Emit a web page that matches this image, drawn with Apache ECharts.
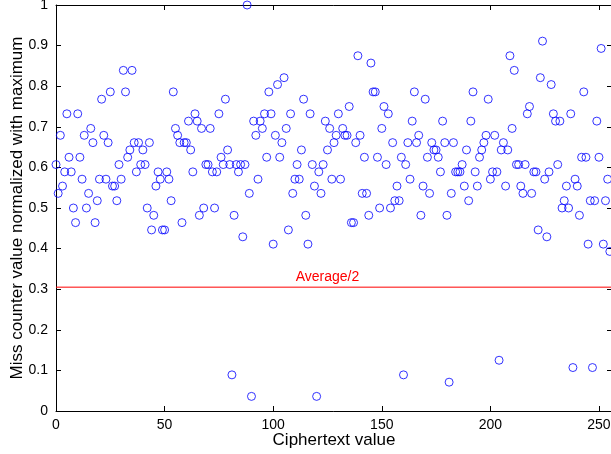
<!DOCTYPE html>
<html>
<head>
<meta charset="utf-8">
<script src="https://cdn.jsdelivr.net/npm/echarts@6/dist/echarts.min.js"></script>
<style>html,body{margin:0;padding:0;background:#fff}#c{width:611px;height:454px}</style>
</head>
<body>
<div id="c"></div>
<script>
// Normalized miss counter values, one per ciphertext value 0..255
const missValues = [
 0.607,0.536,0.679,0.554,0.589,0.732,0.625,0.589,0.5,0.464,
 0.732,0.625,0.571,0.679,0.5,0.536,0.696,0.661,0.464,0.518,
 0.571,0.768,0.679,0.571,0.661,0.786,0.554,0.554,0.518,0.607,
 0.571,0.839,0.786,0.625,0.643,0.839,0.661,0.589,0.661,0.607,
 0.643,0.607,0.5,0.661,0.446,0.482,0.554,0.589,0.571,0.446,
 0.446,0.589,0.571,0.518,0.786,0.696,0.679,0.661,0.464,0.661,
 0.661,0.714,0.643,0.589,0.732,0.714,0.482,0.696,0.5,0.607,
 0.607,0.696,0.589,0.5,0.589,0.732,0.625,0.607,0.768,0.643,
 0.607,0.089,0.482,0.607,0.589,0.607,0.429,0.607,1.0,0.536,
 0.036,0.714,0.679,0.571,0.714,0.696,0.732,0.625,0.786,0.732,
 0.411,0.679,0.804,0.625,0.661,0.821,0.696,0.446,0.732,0.536,
 0.571,0.607,0.571,0.643,0.768,0.482,0.411,0.732,0.607,0.554,
 0.036,0.589,0.536,0.607,0.714,0.643,0.696,0.571,0.661,0.679,
 0.732,0.571,0.696,0.679,0.679,0.75,0.464,0.464,0.661,0.875,
 0.679,0.536,0.625,0.536,0.482,0.857,0.786,0.786,0.625,0.5,
 0.696,0.75,0.607,0.732,0.5,0.661,0.518,0.554,0.518,0.625,
 0.089,0.607,0.661,0.571,0.714,0.786,0.661,0.679,0.482,0.554,
 0.768,0.625,0.536,0.661,0.643,0.643,0.625,0.589,0.714,0.661,
 0.482,0.071,0.536,0.661,0.589,0.589,0.589,0.607,0.554,0.643,
 0.518,0.714,0.786,0.589,0.554,0.625,0.643,0.661,0.679,0.768,
 0.571,0.589,0.679,0.589,0.125,0.643,0.661,0.554,0.643,0.875,
 0.696,0.839,0.607,0.607,0.554,0.536,0.607,0.732,0.75,0.536,
 0.589,0.589,0.446,0.821,0.911,0.571,0.429,0.589,0.804,0.732,
 0.714,0.607,0.714,0.5,0.518,0.554,0.5,0.732,0.107,0.571,
 0.554,0.482,0.625,0.786,0.625,0.411,0.518,0.107,0.518,0.714,
 0.625,0.893,0.411,0.518,0.571,0.393
];
const averageHalf = 0.305;
const averageLabel = 'Average/2';
const averageLabelAt = 125;   // ciphertext value under the label centre
const xRange = [0, 256];
const xTicks = [0, 50, 100, 150, 200, 250];
const yTicks = [0, 0.1, 0.2, 0.3, 0.4, 0.5, 0.6, 0.7, 0.8, 0.9, 1];

const points = missValues.map((v, i) => [i, v]);
const FONT = '"Liberation Sans", Arial, Helvetica, sans-serif';

const chart = echarts.init(document.getElementById('c'), null, {renderer: 'canvas'});
const axisBase = {
  axisLine: {show: true, onZero: false, lineStyle: {color: '#000', width: 1}},
  axisTick: {show: true, inside: true, length: 5, lineStyle: {color: '#000'}},
  splitLine: {show: false}
};
chart.setOption({
  animation: false,
  backgroundColor: '#fff',
  grid: {left: 56, top: 5, width: 556, height: 406, containLabel: false, outerBoundsMode: 'none'},
  xAxis: [
    Object.assign({}, axisBase, {
      type: 'value', min: xRange[0], max: xRange[1], interval: 50, position: 'bottom',
      axisLabel: {show: true, color: '#000', fontFamily: FONT, fontSize: 14, margin: 7, showMaxLabel: false,
        formatter: v => xTicks.includes(v) ? String(v) : ''},
      name: 'Ciphertext value', nameLocation: 'middle', nameGap: 21, nameMoveOverlap: false,
      nameTextStyle: {color: '#000', fontFamily: FONT, fontSize: 17}
    }),
    Object.assign({}, axisBase, {
      type: 'value', min: xRange[0], max: xRange[1], interval: 50, position: 'top',
      axisLabel: {show: false}
    })
  ],
  yAxis: [
    Object.assign({}, axisBase, {
      type: 'value', min: 0, max: 1, interval: 0.1, position: 'left',
      axisLabel: {show: true, color: '#000', fontFamily: FONT, fontSize: 14, margin: 8,
        formatter: v => { const t = yTicks.find(x => Math.abs(x - v) < 1e-9); return t === undefined ? '' : String(t); }},
      name: 'Miss counter value normalized with maximum', nameLocation: 'middle', nameGap: 30, nameMoveOverlap: false,
      nameTextStyle: {color: '#000', fontFamily: FONT, fontSize: 17}
    }),
    Object.assign({}, axisBase, {
      type: 'value', min: 0, max: 1, interval: 0.1, position: 'right',
      axisLabel: {show: false}
    })
  ],
  series: [
    {
      type: 'line',
      name: averageLabel,
      xAxisIndex: 0, yAxisIndex: 0,
      data: [[xRange[0], averageHalf], [xRange[1], averageHalf]],
      showSymbol: false,
      symbol: 'none',
      silent: true,
      z: 1,
      lineStyle: {color: '#ff0000', width: 1, type: 'solid'},
      itemStyle: {color: '#ff0000'},
      emphasis: {disabled: true},
      markPoint: {
        silent: true,
        symbol: 'circle',
        symbolSize: 0,
        itemStyle: {color: 'rgba(0,0,0,0)'},
        label: {show: true, position: 'top', distance: 3, formatter: averageLabel, color: '#ff0000',
          fontFamily: FONT, fontSize: 14},
        data: [{coord: [averageLabelAt, averageHalf]}]
      }
    },
    {
      type: 'scatter',
      xAxisIndex: 0, yAxisIndex: 0,
      data: points,
      symbol: 'circle',
      symbolSize: 8,
      z: 3,
      itemStyle: {color: 'rgba(0,0,0,0)', borderColor: '#0000ff', borderWidth: 1},
      emphasis: {disabled: true}
    }
  ]
});
</script>
</body>
</html>
